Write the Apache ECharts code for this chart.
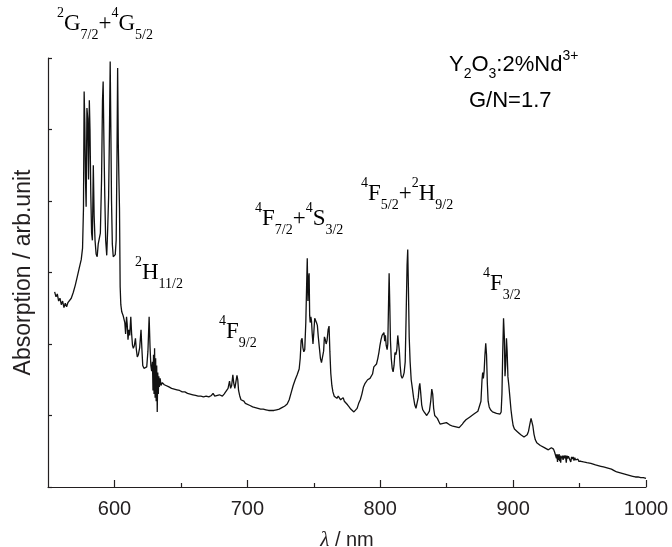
<!DOCTYPE html>
<html><head><meta charset="utf-8">
<script src="https://cdn.jsdelivr.net/npm/echarts@6/dist/echarts.min.js"></script>
<style>html,body{margin:0;padding:0;background:#fff}#c{width:672px;height:547px}</style>
</head><body><div id="c"></div>
<script>
// [wavelength nm, absorption arb.unit]
const spectrum = [
[555.0,2.73],[556.0,2.66],[557.0,2.70],[558.0,2.60],[559.0,2.64],[560.0,2.55],[561.0,2.60],[562.0,2.51],[563.0,2.57],[564.0,2.52],[565.0,2.58],[566.0,2.57],[567.5,2.64],[569.0,2.72],[570.5,2.82],[572.0,2.94],[573.5,3.06],[575.0,3.18],[576.0,3.34],[576.7,3.9],
[577.2,5.53],[577.7,5.1],[578.2,4.3],[578.7,3.92],[579.3,5.30],[579.9,5.15],[580.5,4.30],[581.1,5.41],[581.6,5.0],[582.2,4.1],[582.8,3.55],[583.4,3.45],[584.1,4.50],[584.7,3.80],[585.4,3.45],[586.2,3.26],[587.0,3.22],[587.8,3.40],[588.6,3.38],[589.4,3.55],[590.3,4.3],[591.0,5.40],[591.5,5.67],[592.1,4.8],[592.7,4.1],[593.4,3.45],[594.2,3.24],[594.9,3.6],[595.6,4.05],[596.2,4.9],[596.8,5.95],[597.3,5.0],[597.8,4.0],[598.4,3.40],[599.1,3.22],[599.8,3.22],[600.6,3.25],[601.3,3.45],[601.9,4.6],[602.4,5.86],[602.9,4.8],[603.3,4.36],[603.8,3.9],[604.3,2.80],[604.8,2.55],[605.5,2.45],
[606.5,2.40],[607.2,2.38],[607.8,2.30],[608.4,2.14],[609.1,2.38],[609.6,2.28],[610.2,2.06],[610.8,2.20],[611.5,2.12],[612.3,2.38],[612.9,2.15],[613.6,1.98],[614.2,1.94],[615.0,1.98],[615.8,2.08],[616.5,1.92],[617.2,1.82],[618.0,1.85],[619.0,1.95],[620.0,2.20],[620.6,1.95],[621.3,1.70],[622.2,1.66],[623.2,1.64],[624.3,1.68],[625.2,1.90],[626.1,2.38],[626.8,1.95],[627.4,1.70],[628.0,1.62],[628.6,1.75],[629.0,1.35],[629.4,1.85],[629.8,1.30],[630.2,1.94],[630.6,1.25],[631.0,1.80],[631.4,1.20],[631.8,1.70],[632.2,1.05],[632.6,1.60],[633.0,1.30],[633.4,1.55],[633.8,1.40],[634.4,1.52],[635.0,1.42],[636.0,1.46],
[637.5,1.43],[639.0,1.42],[641.0,1.40],[643.0,1.38],[645.0,1.37],[647.0,1.36],[649.0,1.35],[651.0,1.33],[653.0,1.33],[655.0,1.31],[657.0,1.30],[659.0,1.29],[661.0,1.28],[663.0,1.27],[665.0,1.27],[667.0,1.26],[669.0,1.27],[671.0,1.26],[673.0,1.28],[674.2,1.31],[675.5,1.27],[677.0,1.26],[679.0,1.29],[680.0,1.30],[681.2,1.27],[682.5,1.30],[684.0,1.32],[685.5,1.38],[686.6,1.48],[687.4,1.38],[688.2,1.42],[689.1,1.57],[689.8,1.45],[690.6,1.38],[691.4,1.47],[692.2,1.56],[692.8,1.50],[693.4,1.35],[694.2,1.28],[695.2,1.22],[696.4,1.22],[697.4,1.20],[698.5,1.17],
[700.0,1.16],[702.0,1.14],[704.0,1.12],[706.0,1.11],[708.0,1.10],[710.0,1.09],[712.0,1.09],[714.0,1.08],[716.0,1.07],[718.0,1.07],[720.0,1.07],[722.0,1.08],[724.0,1.09],[726.0,1.11],[728.0,1.13],[730.0,1.16],[731.5,1.22],[733.0,1.32],[734.5,1.42],[736.0,1.50],[737.5,1.57],[739.0,1.65],[739.8,1.80],[740.5,2.05],[741.2,2.08],[741.8,1.95],[742.5,1.89],[743.2,1.92],[744.0,2.30],[744.6,2.8],[745.1,3.20],[745.6,2.6],[746.0,2.9],[746.5,2.99],[746.9,2.4],[747.3,2.3],[747.8,2.38],[748.3,2.32],[748.8,2.15],[749.4,2.00],[750.0,2.15],[750.7,2.36],[751.4,2.34],[752.0,2.30],[752.7,2.26],[753.4,2.10],[754.2,1.95],[755.0,1.80],[755.8,1.74],[756.6,1.75],[757.4,1.90],[758.0,2.10],[758.7,2.06],[759.3,2.00],[760.0,2.05],[760.8,2.20],[761.5,2.25],[762.1,1.90],[762.8,1.59],[763.6,1.42],[764.4,1.33],[765.4,1.27],[766.4,1.26],[767.4,1.24],[768.4,1.27],[769.2,1.25],[770.2,1.22],[771.2,1.22],[772.1,1.25],[773.0,1.20],[774.2,1.18],[775.4,1.15],[776.6,1.12],[777.8,1.09],[779.0,1.07],[780.2,1.05],[781.4,1.06],[782.6,1.10],[783.8,1.17],[785.0,1.22],[786.2,1.30],[787.4,1.40],[788.6,1.45],[789.6,1.47],[790.5,1.50],[791.4,1.48],[792.3,1.52],[793.2,1.50],[794.2,1.58],[795.2,1.68],[796.2,1.70],[797.2,1.72],[798.2,1.80],[799.0,1.88],[799.8,1.98],
[800.6,2.06],[801.4,2.12],[802.2,2.10],[802.8,2.16],[803.4,2.04],[803.9,2.12],[804.5,1.98],[805.2,1.92],[805.7,2.00],[806.2,2.50],[806.7,2.99],[807.2,2.55],[807.7,2.05],[808.3,1.80],[809.0,1.66],[809.7,1.61],[810.4,1.70],[811.1,1.88],[811.8,1.85],[812.5,1.92],[813.2,2.12],[813.8,2.13],[814.4,1.90],[815.0,1.70],[815.7,1.56],[816.5,1.52],[817.3,1.55],[818.0,1.60],[818.8,1.75],[819.5,2.40],[820.2,3.10],[820.7,3.32],[821.2,2.80],[821.8,2.10],[822.5,1.75],[823.3,1.50],[824.2,1.38],[825.1,1.25],[826.0,1.15],[826.9,1.10],[827.8,1.12],[828.6,1.25],[829.3,1.40],[829.8,1.45],[830.4,1.33],[831.2,1.15],[832.0,1.08],[833.0,1.05],[834.0,1.04],[835.0,1.00],[836.0,1.02],[837.0,1.06],[838.0,1.20],[838.8,1.37],[839.5,1.30],[840.2,1.10],[841.0,1.00],[842.0,0.98],[843.0,0.96],[844.0,0.92],[845.0,0.88],[846.2,0.87],[847.4,0.89],[848.6,0.88],[849.8,0.90],[851.0,0.89],[852.2,0.87],[853.4,0.86],[854.6,0.85],[855.8,0.84],[857.0,0.84],[858.2,0.83],[859.4,0.83],[860.6,0.85],[861.8,0.88],[863.0,0.91],[864.5,0.94],[866.0,0.96],[867.5,0.98],[869.0,1.00],[870.5,1.02],[872.0,1.04],[873.5,1.06],[874.8,1.08],[875.8,1.20],[876.6,1.50],[877.1,1.60],[877.6,1.52],[878.2,1.62],[878.8,1.85],[879.4,2.01],[880.0,1.85],[880.6,1.45],[881.2,1.20],[882.0,1.12],[883.0,1.08],[884.5,1.05],[886.0,1.04],[887.5,1.03],[889.0,1.02],[890.2,1.02],[891.0,1.05],[891.6,1.30],[892.2,1.90],[892.8,2.36],[893.4,2.10],[893.9,1.55],[894.4,1.70],[895.0,2.08],[895.5,1.90],[896.1,1.54],[896.8,1.42],[897.6,1.25],[898.4,1.08],[899.2,0.96],
[900.0,0.86],[901.0,0.81],[902.2,0.79],[903.4,0.77],[904.6,0.75],[905.8,0.73],[907.0,0.72],[908.2,0.70],[909.4,0.70],[910.6,0.73],[911.6,0.78],[912.6,0.88],[913.5,0.96],[914.2,0.95],[914.9,0.85],[915.7,0.74],[916.7,0.66],[917.8,0.62],[919.0,0.60],[920.5,0.58],[922.0,0.57],[923.5,0.55],[925.0,0.53],[926.5,0.52],[927.8,0.52],[928.8,0.55],[929.6,0.57],[930.4,0.53],[931.2,0.49],[932.0,0.47],[932.6,0.40],[933.0,0.46],[933.4,0.35],[933.8,0.45],[934.2,0.38],[934.6,0.46],[935.0,0.36],[935.4,0.44],[935.8,0.34],[936.2,0.43],[936.6,0.40],[937.0,0.44],[937.6,0.38],[938.2,0.44],[938.8,0.40],[939.4,0.44],[940.0,0.34],[940.5,0.44],[941.0,0.40],[941.6,0.43],[942.2,0.41],[942.8,0.44],[943.4,0.35],[944.0,0.42],[944.6,0.39],[945.2,0.42],[945.8,0.37],[946.4,0.41],[947.0,0.38],[947.6,0.40],[948.2,0.37],[948.8,0.39],[949.4,0.36],[950.0,0.38],[951.0,0.36],[952.0,0.37],[953.0,0.35],[954.0,0.35],[955.5,0.34],[957.0,0.33],[958.5,0.33],[960.0,0.32],[962.0,0.31],[964.0,0.30],[966.0,0.29],[968.0,0.28],[970.0,0.27],[972.0,0.26],[974.0,0.25],[976.0,0.23],[978.0,0.21],[980.0,0.20],[982.0,0.19],[984.0,0.18],[986.0,0.17],[988.0,0.16],[990.0,0.15],[992.0,0.14],[994.0,0.14],[996.0,0.13],[998.0,0.13],[1000.0,0.12]
];
const xMajorTicks = [600, 700, 800, 900, 1000];
const xMinorTicks = [650, 750, 850, 950];
const yTicks = [0, 1, 2, 3, 4, 5, 6];

const SERIF = "'Liberation Serif', 'Times New Roman', serif";
const SANS = "'Liberation Sans', Arial, sans-serif";
const INK = '#231f20';

const serifRich = {
  m: { fontFamily: SERIF, fontSize: 23, lineHeight: 36, color: INK, verticalAlign: 'middle' },
  sup: { fontFamily: SERIF, fontSize: 14, lineHeight: 25, color: INK, verticalAlign: 'top' },
  sub: { fontFamily: SERIF, fontSize: 14, lineHeight: 14, color: INK, verticalAlign: 'bottom' }
};
const sansRich = {
  m: { fontFamily: SANS, fontSize: 22, lineHeight: 32, color: INK, verticalAlign: 'middle' },
  sup: { fontFamily: SANS, fontSize: 14, lineHeight: 15, color: INK, verticalAlign: 'top' },
  sub: { fontFamily: SANS, fontSize: 14, lineHeight: 9, color: INK, verticalAlign: 'bottom' }
};

// annotation texts: [rich text, left, top, style set]
const annotations = [
  ['{sup|2}{m|G}{sub|7/2}{m|+}{sup|4}{m|G}{sub|5/2}', 57, 6, 'serif'],
  ['{sup|2}{m|H}{sub|11/2}', 135, 255, 'serif'],
  ['{sup|4}{m|F}{sub|9/2}', 219, 314, 'serif'],
  ['{sup|4}{m|F}{sub|7/2}{m|+}{sup|4}{m|S}{sub|3/2}', 255, 201, 'serif'],
  ['{sup|4}{m|F}{sub|5/2}{m|+}{sup|2}{m|H}{sub|9/2}', 361, 176, 'serif'],
  ['{sup|4}{m|F}{sub|3/2}', 483, 266, 'serif'],
  ['{m|Y}{sub|2}{m|O}{sub|3}{m|:2%Nd}{sup|3+}', 449, 49, 'sans'],
  ['{m|G/N=1.7}', 469, 85, 'sans']
];

const chart = echarts.init(document.getElementById('c'), null, { renderer: 'canvas' });

const axisLineStyle = { color: INK, width: 1.2 };

chart.setOption({
  animation: false,
  backgroundColor: '#ffffff',
  grid: { left: 48, right: 26, top: 58, bottom: 60, containLabel: false, outerBoundsMode: 'none' },
  xAxis: [{
    type: 'value', min: 550, max: 1000, interval: 50,
    axisLine: { show: true, onZero: false, lineStyle: axisLineStyle },
    axisTick: { show: true, inside: true, length: 7, lineStyle: axisLineStyle, customValues: xMajorTicks },
    axisLabel: { show: true, customValues: xMajorTicks, margin: 12, fontSize: 20, fontFamily: SANS, color: INK,
      formatter: v => String(v) },
    splitLine: { show: false },
    name: '{i|λ} / nm',
    nameLocation: 'middle',
    nameGap: 43,
    nameTextStyle: {
      fontSize: 20, fontFamily: SANS, color: INK,
      rich: { i: { fontSize: 21, fontFamily: SERIF, fontStyle: 'italic', color: INK } }
    }
  }, {
    type: 'value', min: 550, max: 1000, interval: 50, position: 'bottom', gridIndex: 0,
    axisLine: { show: false },
    axisTick: { show: true, inside: true, length: 4, lineStyle: axisLineStyle, customValues: xMinorTicks },
    axisLabel: { show: false },
    splitLine: { show: false }
  }],
  yAxis: {
    type: 'value', min: 0, max: 6, interval: 1,
    axisLine: { show: true, onZero: false, lineStyle: axisLineStyle },
    axisTick: { show: true, inside: true, length: 4, lineStyle: axisLineStyle, customValues: yTicks },
    axisLabel: { show: false },
    splitLine: { show: false },
    name: 'Absorption / arb.unit',
    nameLocation: 'middle',
    nameRotate: 90,
    nameGap: 13,
    nameTextStyle: { fontSize: 23, fontFamily: SANS, color: INK }
  },
  series: [{
    type: 'line',
    xAxisIndex: 0,
    data: spectrum,
    showSymbol: false,
    symbol: 'none',
    smooth: false,
    lineStyle: { color: '#111', width: 1.3 },
    silent: true
  }],
  graphic: annotations.map(a => ({
    type: 'text',
    x: a[1], y: a[2],
    style: {
      text: a[0],
      rich: a[3] === 'serif' ? serifRich : sansRich,
      align: 'left',
      verticalAlign: 'top'
    }
  }))
});
</script>
</body></html>
